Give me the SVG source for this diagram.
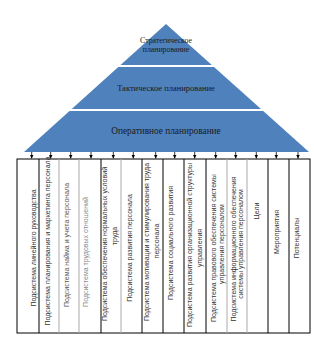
<svg xmlns="http://www.w3.org/2000/svg" width="314" height="338" viewBox="0 0 314 338">
<style>
.lvl{fill:#4F81BD;stroke:none}
.ptx{font-family:"Liberation Serif","Times New Roman",serif;fill:#1a1a1a;text-anchor:middle}
.ctx{font-family:"Liberation Sans",Arial,sans-serif;font-size:7px;fill:#333;text-anchor:middle}
.frame{fill:none;stroke:#000;stroke-width:1}
.dk{stroke:#000;stroke-width:1}
.lt{stroke:#aaa;stroke-width:1}
.arr{stroke:#000;stroke-width:0.8;marker-end:url(#ah)}
</style>
<defs>
<marker id="ah" viewBox="0 0 6 6" refX="6" refY="3" markerWidth="4" markerHeight="4" orient="auto" markerUnits="userSpaceOnUse">
<path d="M0,0 L6,3 L0,6 Z" fill="#000"/>
</marker>
</defs>
<rect width="314" height="338" fill="#fff"/>
<g id="strategic">
<polygon class="lvl" points="166,24 211.8,65 120.5,65"/>
<text class="ptx" font-size="7.8" x="166" y="42.5">Стратегическое</text>
<text class="ptx" font-size="7.8" x="166" y="51.5">планирование</text>
</g>
<g id="tactical">
<polygon class="lvl" points="118.3,67 214,67 261,109 71.7,109"/>
<text class="ptx" font-size="8.5" x="166" y="91">Тактическое планирование</text>
</g>
<g id="operational">
<polygon class="lvl" points="69.5,111 263.2,111 309,152 24,152"/>
<text class="ptx" font-size="9.3" x="166" y="134">Оперативное планирование</text>
</g>
<g id="table">
<rect class="frame" x="17" y="159" width="293" height="174"/>
<line class="dk" x1="39" y1="159" x2="39" y2="333"/>
<line class="lt" x1="59" y1="159" x2="59" y2="333"/>
<line class="lt" x1="79" y1="159" x2="79" y2="333"/>
<line class="dk" x1="101" y1="159" x2="101" y2="333"/>
<line class="lt" x1="121" y1="159" x2="121" y2="333"/>
<line class="dk" x1="142" y1="159" x2="142" y2="333"/>
<line class="dk" x1="163" y1="159" x2="163" y2="333"/>
<line class="dk" x1="184" y1="159" x2="184" y2="333"/>
<line class="dk" x1="206" y1="159" x2="206" y2="333"/>
<line class="lt" x1="227" y1="159" x2="227" y2="333"/>
<line class="lt" x1="247" y1="159" x2="247" y2="333"/>
<line class="dk" x1="268" y1="159" x2="268" y2="333"/>
<line class="dk" x1="289" y1="159" x2="289" y2="333"/>
</g>
<g id="c1"><text class="ctx" transform="translate(35.5,248) rotate(-90)">Подсистема линейного руководства</text></g>
<g id="c2"><text class="ctx" transform="translate(50,241) rotate(-90)">Подсистема планирования и маркетинга персонала</text></g>
<g id="c3"><text class="ctx" transform="translate(69,245) rotate(-90)" style="fill:#555">Подсистема найма и учета персонала</text></g>
<g id="c4"><text class="ctx" transform="translate(88,252) rotate(-90)" style="fill:#888">Подсистема трудовых отношений</text></g>
<g id="c5"><text class="ctx" transform="translate(107,244) rotate(-90)">Подсистема обеспечения нормальных условий</text><text class="ctx" transform="translate(117,236) rotate(-90)">труда</text></g>
<g id="c6"><text class="ctx" transform="translate(132,248) rotate(-90)">Подсистема развития персонала</text></g>
<g id="c7"><text class="ctx" transform="translate(149,242) rotate(-90)">Подсистема мотивации и стимулирования труда</text><text class="ctx" transform="translate(159,241) rotate(-90)">персонала</text></g>
<g id="c8"><text class="ctx" transform="translate(173,243) rotate(-90)">Подсистема социального развития</text></g>
<g id="c9"><text class="ctx" transform="translate(192,245) rotate(-90)">Подсистема развития организационной структуры</text><text class="ctx" transform="translate(202,248) rotate(-90)">управления</text></g>
<g id="c10"><text class="ctx" transform="translate(216,248) rotate(-90)">Подсистема правового обеспечения системы</text><text class="ctx" transform="translate(224,244) rotate(-90)">управления персоналом</text></g>
<g id="c11"><text class="ctx" transform="translate(236,249) rotate(-90)">Подсистема информационного обеспечения</text><text class="ctx" transform="translate(243,244) rotate(-90)">системы управления персоналом</text></g>
<g id="c12"><text class="ctx" transform="translate(258.5,211) rotate(-90)">Цели</text></g>
<g id="c13"><text class="ctx" transform="translate(279,232) rotate(-90)">Мероприятия</text></g>
<g id="c14"><text class="ctx" transform="translate(299,238) rotate(-90)">Потенциалы</text></g>
<g id="connectors">
<line class="arr" x1="31.7" y1="152" x2="31.7" y2="158.5"/>
<line class="arr" x1="50.7" y1="152" x2="50.7" y2="158.5"/>
<line class="arr" x1="70.7" y1="152" x2="70.7" y2="158.5"/>
<line class="arr" x1="91" y1="152" x2="91" y2="158.5"/>
<line class="arr" x1="113.3" y1="152" x2="113.3" y2="158.5"/>
<line class="arr" x1="133.3" y1="152" x2="133.3" y2="158.5"/>
<line class="arr" x1="155.7" y1="152" x2="155.7" y2="158.5"/>
<line class="arr" x1="174.7" y1="152" x2="174.7" y2="158.5"/>
<line class="arr" x1="194.7" y1="152" x2="194.7" y2="158.5"/>
<line class="arr" x1="215.7" y1="152" x2="215.7" y2="158.5"/>
<line class="arr" x1="235.7" y1="152" x2="235.7" y2="158.5"/>
<line class="arr" x1="256.3" y1="152" x2="256.3" y2="158.5"/>
<line class="arr" x1="276.3" y1="152" x2="276.3" y2="158.5"/>
<line class="arr" x1="298" y1="152" x2="298" y2="158.5"/>
</g>
</svg>
